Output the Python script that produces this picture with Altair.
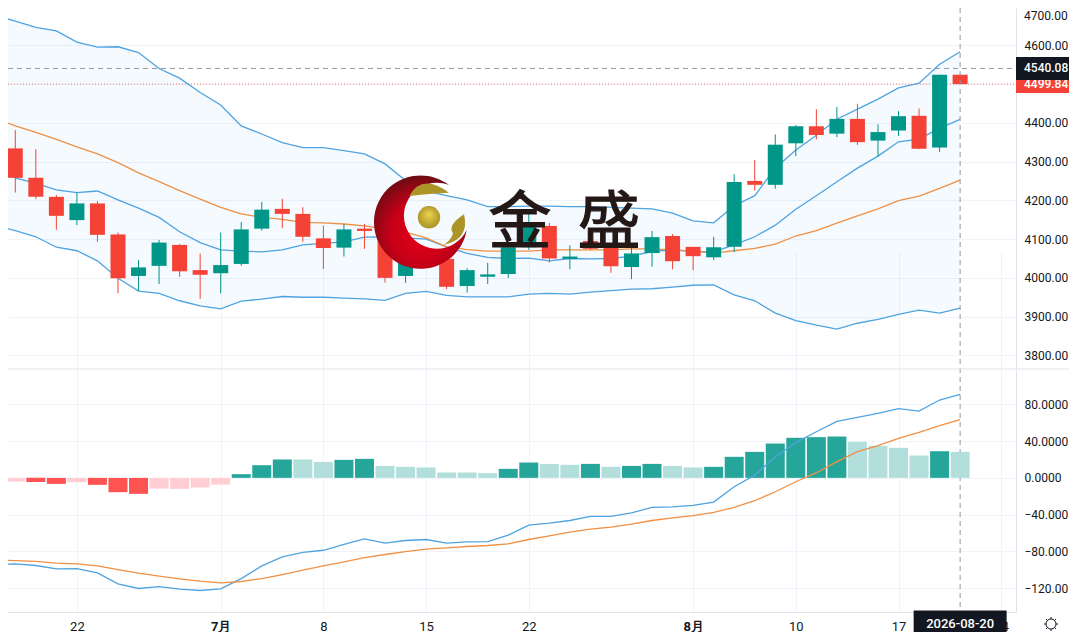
import altair as alt
import pandas as pd

# ---- candles, index -1..46 ----
idx = list(range(-1, 47))
dirs = [
    "T","R","R","R","T","R","R","T","T","R","R","T","T","T","R","R","R","T","R","R",
    "T","T","R","T","T","T","T","R","T","R","R","T","T","R","R","T","T","R","T","T",
    "R","T","R","T","T","R","T","R"]
body_top = [4332,4334,4258,4209,4192,4192,4112,4027,4091,4085,4020,4033,4125,4176,4178,4165,
            4102,4125,4127,4103,4041,4067,4049,4020,4009,4079,4132,4134,4055,4095,4080,4063,
            4105,4108,4080,4079,4247,4250,4343.5,4391,4391,4410,4410,4376,4417,4418,4524,4524]
body_bot = [4312,4258,4209,4160,4149,4111,3999,4005,4031,4017,4008,4012,4036,4127,4165,4106,
            4077,4078,4121,4000,4005,4041,3977,3979,4003,4010,4079,4050,4049,4075,4030,4028,
            4064,4043,4056,4053,4080,4240,4240,4347,4368.5,4372,4350,4354,4380,4333,4336,4499.84]
highs = [4345,4381,4332,4214,4220,4198,4117,4046,4098,4087,4063,4117,4144,4196,4204,4182,
         4135,4139,4139,4124,4067,4077,4059,4025,4039,4085,4167,4142,4084,4103,4080,4080,
         4121,4113,4080,4106,4267,4304,4370,4394,4435,4441,4449,4396,4430,4437,4524,4524]
lows = [4300,4220,4203,4124,4136,4093,3960,3966,3984,4003,3946,3960,4031,4122,4128,4093,
        4023,4055,4075,3988,3987,4031,3971,3962,3984,4000,4072,4040,4022,4072,4013,3997,
        4029,4022,4020,4046,4067,4225,4230,4314,4357,4363,4343,4312.5,4366,4332,4325,4499.84]

# ---- bands ----
upper = [4678,4662,4646,4637,4608,4595,4596,4581,4540,4515,4478,4446,4392,4371,4349,4336,4336,
         4328,4320,4294,4251,4224,4212,4201,4184,4184,4185,4185,4184,4184,4182,4180,4178,4167,
         4147,4142,4186,4212,4283,4330,4368,4409,4435,4461,4490,4502,4551,4583]
lower = [4134,4122,4106,4079,4070,4044,3999,3966,3960,3941,3928,3920,3940,3945,3952,3950,3950,
         3948,3946,3942,3960,3965,3955,3951,3951,3951,3958,3960,3958,3963,3967,3971,3972,3976,
         3981,3982,3956,3941,3909,3890,3878,3868,3883,3893,3906,3917,3909,3922]
inner = [4283,4258,4244,4227,4220,4224,4201,4180,4156,4119,4091,4072,4069,4067,4072,4085,4089,
         4093,4105,4106,4103,4100,4080,4063,4053,4050,4051,4044,4050,4049,4050,4056,4068,4072,
         4068,4067,4085,4106,4136,4177,4212,4248,4283,4314,4351,4358,4386,4409]
slow = [4412,4392,4375,4357,4338,4320,4297,4271,4248,4225,4203,4182,4165,4156,4151,4143,4142,
        4139,4134,4126,4118,4103,4080,4073,4069,4069,4069,4072,4072,4072,4072,4075,4075,4072,
        4069,4064,4070,4076,4087,4108,4122,4141,4160,4178,4199,4211,4231,4252]

# ---- MACD ----
hist = [-6.2,-4,-4.4,-6.5,-4.7,-7.6,-15.6,-17.4,-11.6,-12,-10.5,-7.3,4,13.8,20,20,17.4,19.6,20.7,
        13,12,11.3,5.8,5.8,5.1,9.8,16.7,15.2,14.2,15.2,12,13,15.2,13,11.3,12,
        22.9,28.3,37.4,43.6,44.3,45,39.2,34.8,32.7,24.3,29,28.3]
hist_tone = list("LLDDLDDDLLLLDDDLLDDLLLLLLDDLLDLDDLLDDDDDDDLLLLDL")
macd = [-94.7,-93.6,-95.4,-99,-98.7,-103.4,-115.4,-120.4,-118.3,-121.2,-122.6,-120.8,-109.6,-95.8,
        -86,-81.2,-78.8,-72.5,-66.4,-71.1,-68.2,-67.1,-71.1,-69.6,-69.3,-62.4,-51.5,-49.3,-46.4,
        -42,-42,-38,-32.2,-31.5,-30,-26.4,-9.7,3,23,38.3,50.2,61.5,65.8,70.2,75.3,72.7,84.7,90.9]
signal = [-89.2,-90,-91,-92.9,-93.6,-95.8,-99.8,-103.7,-107,-109.9,-112.5,-114.3,-112.8,-109.6,
          -105.2,-100.5,-95.8,-91.4,-86.7,-83.4,-80.2,-77.6,-76.2,-74.7,-73.6,-71.8,-67.1,-63.1,
          -59.1,-55.8,-53.7,-50.4,-46.4,-43.5,-41.2,-37.6,-32.2,-24.9,-15.1,-4.2,5.6,17.6,28.5,
          35,43,49.5,56.8,63.3]

# ---- axes ----
tick_idx = [3, 10, 15, 20, 25, 33, 38, 43, 48]
tick_text = ["22", "7月", "8", "15", "22", "8月", "10", "17", "24"]
bold_idx = [10, 33]
price_ticks = [3800, 3900, 4000, 4100, 4200, 4300, 4400, 4500, 4600]
top_tick_label = "4700.00"
macd_ticks = [-120, -80, -40, 0, 40, 80]
last_price = 4499.84
cross_price = 4540.08
cross_date = "2026-08-20"
cross_i = 46
wm_chars = ["金", "盛"]

df = pd.DataFrame({
    "i": idx, "top": body_top, "bot": body_bot, "high": highs, "low": lows,
    "dir": ["up" if d == "T" else "down" for d in dirs],
    "upper": upper, "lower": lower, "inner": inner, "slow": slow,
    "hist": hist, "zero": [0] * len(hist),
    "kind": [("up_" if h > 0 else "down_") + ("strong" if t == "D" else "weak")
             for h, t in zip(hist, hist_tone)],
    "macd": macd, "signal": signal,
})

W, H = 1008, 604
GRID = "#f0f3fa"
LINE = "#e0e3eb"
TXT = "#131722"
BLUE = "#4fa3e0"
ORANGE = "#ef9045"
TICK_SIZE = 12

color = alt.Color("c:N", legend=None, scale=alt.Scale(
    domain=["up", "down", "up_strong", "up_weak", "down_strong", "down_weak"],
    range=["#009688", "#f44336", "#26a69a", "#b2dfdb", "#ff5252", "#ffcdd2"]))

label_expr = "[" + ",".join(f"'{t}'" for t in tick_text) + "][indexof(" + str(tick_idx) + ",datum.value)]"
x_axis = alt.Axis(values=tick_idx, labelExpr=label_expr, title=None, grid=True, gridColor=GRID,
                  ticks=False, domainColor=LINE, labelColor=TXT, labelFont="Roboto", labelFontSize=13,
                  labelPadding=8, labelOverlap=False, labelFlush=False,
                  labelFontWeight={"condition": {"test": f"indexof({bold_idx},datum.value)>=0", "value": "bold"},
                                   "value": "normal"})
x_scale = alt.Scale(domain=[-0.355, 48.72], nice=False, zero=False, padding=0)
X = alt.X("i:Q", scale=x_scale, axis=x_axis)

main_scale = alt.Scale(domain=[3765, 4696], range=[361, 0], nice=False, zero=False, padding=0)
main_axis = alt.Axis(orient="right", values=price_ticks, format=".2f", title=None, grid=True, gridColor=GRID,
                     ticks=False, domainColor=LINE, labelColor=TXT, labelFont="Roboto", labelFontSize=TICK_SIZE,
                     labelPadding=8, labelOverlap=False, labelFlush=False)
def ym(f):
    return alt.Y(f + ":Q", scale=main_scale, axis=main_axis)

macd_scale = alt.Scale(domain=[-146, 117.4], range=[604, 362], nice=False, zero=False, padding=0)
macd_axis = alt.Axis(orient="right", values=macd_ticks, title=None, grid=True, gridColor=GRID, ticks=False,
                     domainColor=LINE, labelColor=TXT, labelFont="Roboto", labelFontSize=TICK_SIZE, labelPadding=8,
                     labelOverlap=False, labelFlush=False,
                     labelExpr="slice(format(datum.value,'.4f'),0,7)")
def yl(f):
    return alt.Y(f + ":Q", scale=macd_scale, axis=macd_axis)

base = alt.Chart(df)
one = pd.DataFrame({"i": [cross_i], "p": [last_price], "q": [cross_price], "d": [cross_date],
                    "pt": [f"{last_price:.2f}"], "qt": [f"{cross_price:.2f}"], "sep": [3765],
                    "ch0": [wm_chars[0]], "ch1": [wm_chars[1]], "top_label": [top_tick_label]})
note = alt.Chart(one)

crescent = "M29,-38.5 A46.7,46.7 0 1 0 46.7,6.5 A33,33 0 1 1 29,-38.5 Z"
swoosh1 = "M-10.7,-27.5 Q2,-50.8 29,-30.8 Q8,-29.8 -10.7,-27.5 Z"
swoosh2 = "M23.3,21.5 Q50,16 44,-9.2 Q27,2 33,10 Q31,17 23.3,21.5 Z"
gear = ("M-5,0 A5,5 0 1 1 5,0 A5,5 0 1 1 -5,0 Z M0,-7 L0,-5 M0,5 L0,7 M-7,0 L-5,0 M5,0 L7,0 "
        "M-5,-5 L-3.5,-3.5 M5,-5 L3.5,-3.5 M-5,5 L-3.5,3.5 M5,5 L3.5,3.5")
red_fill = {"gradient": "radial", "x1": 0.52, "y1": 0.62, "r1": 0.02, "x2": 0.52, "y2": 0.62, "r2": 0.62,
            "stops": [{"offset": 0, "color": "#e60014"}, {"offset": 0.55, "color": "#c40018"},
                      {"offset": 1, "color": "#6d0c12"}]}
gold_fill = {"gradient": "radial", "x1": 0.5, "y1": 0.35, "r1": 0.02, "x2": 0.5, "y2": 0.5, "r2": 0.6,
             "stops": [{"offset": 0, "color": "#ecd04a"}, {"offset": 1, "color": "#a08a24"}]}
SW = "#ad9427"

def sym(path, fill, x=412, y=215.5):
    return note.mark_point(shape=path, size=4, filled=True, fill=fill, stroke=None, opacity=1).encode(
        x=alt.value(x), y=alt.value(y))

main = alt.layer(
    base.mark_area(color="#2196f3", opacity=0.05, clip=True).encode(x=X, y=ym("upper"), y2="lower:Q"),
    note.mark_rule(color="#f44336", strokeDash=[1, 2], strokeWidth=1, opacity=0.7).encode(
        y=ym("p"), x=alt.value(0), x2=alt.value(W)),
    note.mark_rule(color="#9598a1", strokeDash=[5, 4], strokeWidth=1).encode(
        y=ym("q"), x=alt.value(0), x2=alt.value(W)),
    base.mark_line(color=BLUE, strokeWidth=1.3, clip=True).encode(x=X, y=ym("upper")),
    base.mark_line(color=BLUE, strokeWidth=1.3, clip=True).encode(x=X, y=ym("lower")),
    base.mark_line(color=BLUE, strokeWidth=1.3, clip=True).encode(x=X, y=ym("inner")),
    base.mark_line(color=ORANGE, strokeWidth=1.3, clip=True).encode(x=X, y=ym("slow")),
    base.transform_calculate(c="datum.dir").mark_rule(strokeWidth=1, clip=True).encode(
        x=X, y=ym("high"), y2="low:Q", color=color),
    base.transform_calculate(c="datum.dir").mark_bar(size=15, clip=True).encode(
        x=X, y=ym("top"), y2="bot:Q", color=color),
    note.mark_rule(color="#9598a1", strokeDash=[5, 4], strokeWidth=1).encode(x=X),
    note.mark_rule(color=LINE, strokeWidth=1).encode(y=ym("sep"), x=alt.value(0), x2=alt.value(1061)),
    # watermark
    sym(crescent, red_fill),
    sym(swoosh1, SW),
    sym(swoosh2, SW),
    note.mark_point(shape="circle", size=500, filled=True, fill=gold_fill, stroke=None, opacity=1).encode(
        x=alt.value(421), y=alt.value(209.3)),
    note.mark_text(font="Noto Sans CJK SC", fontSize=63, fontWeight="normal", color="#231815",
                   stroke="#231815", strokeWidth=1.2).encode(
        text="ch0:N", x=alt.value(512), y=alt.value(216)),
    note.mark_text(font="Noto Sans CJK SC", fontSize=63, fontWeight="normal", color="#231815",
                   stroke="#231815", strokeWidth=1.2).encode(
        text="ch1:N", x=alt.value(601), y=alt.value(216)),
    # top price label, inside the page
    note.mark_text(font="Roboto", fontSize=TICK_SIZE, color=TXT, align="left").encode(
        x=alt.value(1016), y=alt.value(8), text="top_label:N"),
    # price tags
    note.mark_rect(width=53, height=18, color="#f44336").encode(x=alt.value(1034.5), y=ym("p")),
    note.mark_text(font="Roboto", fontSize=TICK_SIZE, fontWeight=500, color="white", align="left").encode(
        x=alt.value(1016), y=ym("p"), text="pt:N"),
    note.mark_rect(width=53, height=23, color="#131722").encode(x=alt.value(1034.5), y=ym("q")),
    note.mark_text(font="Roboto", fontSize=TICK_SIZE, fontWeight=500, color="white", align="left").encode(
        x=alt.value(1016), y=ym("q"), text="qt:N"),
)

lowerp = alt.layer(
    base.transform_calculate(c="datum.kind").mark_bar(size=19, clip=True).encode(
        x=X, y=yl("hist"), y2="zero:Q", color=color),
    base.mark_line(color=BLUE, strokeWidth=1.3, clip=True).encode(x=X, y=yl("macd")),
    base.mark_line(color=ORANGE, strokeWidth=1.3, clip=True).encode(x=X, y=yl("signal")),
    note.mark_rect(width=93, height=22, color="#131722").encode(x=X, y=alt.value(613.5)),
    note.mark_text(font="Roboto", fontSize=13, fontWeight=500, color="white").encode(
        x=X, y=alt.value(616), text="d:N"),
    note.mark_point(shape=gear, size=4, filled=False, stroke=TXT, strokeWidth=1, opacity=1).encode(
        x=alt.value(1043), y=alt.value(616)),
)

chart = alt.layer(main, lowerp).resolve_scale(y="independent").properties(
    width=W, height=H,
    autosize=alt.AutoSizeParams(type="none", contains="content"),
    padding={"left": 0, "top": 0, "right": 53, "bottom": 20},
    background="white",
).configure_view(stroke=None)

chart.save("out.html", embed_options={"renderer": "svg", "actions": False})
